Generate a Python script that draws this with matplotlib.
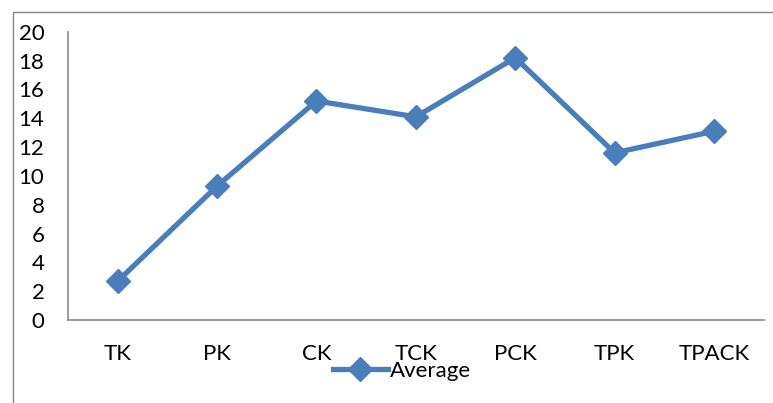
import matplotlib
matplotlib.use('Agg')
import matplotlib.pyplot as plt
from matplotlib.patches import Rectangle

categories = ['TK', 'PK', 'CK', 'TCK', 'PCK', 'TPK', 'TPACK']
average = [2.7, 9.3, 15.2, 14.1, 18.2, 11.6, 13.1]
y_ticks = list(range(0, 21, 2))

plt.rcParams['font.family'] = ['Lato', 'DejaVu Sans']
blue = '#4A7EBB'

fig = plt.figure(figsize=(7.73, 4.03), dpi=100)
ax = fig.add_axes([0.088, 0.206, 0.900, 0.715])

ax.plot(range(len(categories)), average, color=blue, lw=3.8,
        marker='D', markersize=12, label='Average')

ax.set_xlim(-0.5, len(categories) - 0.5)
ax.set_ylim(0, 20)
ax.set_yticks(y_ticks)
ax.set_xticks(range(len(categories)))
ax.set_xticklabels(categories)
ax.tick_params(axis='both', length=0, labelsize=16)
ax.tick_params(axis='x', pad=17)
ax.tick_params(axis='y', pad=17)
for s in ['top', 'right']:
    ax.spines[s].set_visible(False)
for s in ['left', 'bottom']:
    ax.spines[s].set_color('#888888')
    ax.spines[s].set_linewidth(1.2)

# outer chart border (only left/top visible in the crop)
fig.add_artist(Rectangle((13 / 773, -0.1), 1.2, (403 - 12) / 403 + 0.1,
                         transform=fig.transFigure, fill=False,
                         edgecolor='#888888', lw=1.0))

fig.legend(loc='center', bbox_to_anchor=(0.52, 0.08), frameon=False,
           fontsize=16, handlelength=2.5, handletextpad=0.1)

fig.savefig('out.png', dpi=100)
